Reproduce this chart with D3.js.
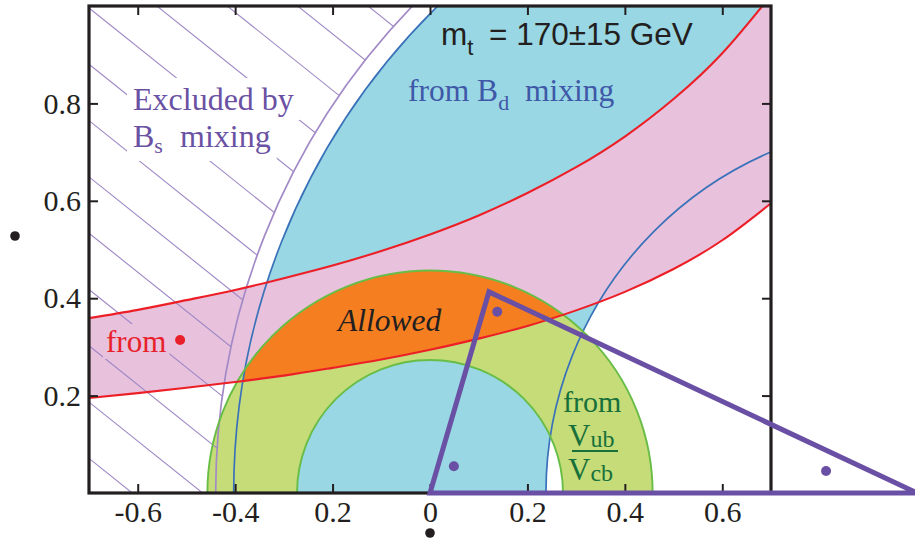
<!DOCTYPE html>
<html>
<head>
<meta charset="utf-8">
<script src="https://cdn.jsdelivr.net/npm/d3@7"></script>
<style>
  html, body { margin: 0; padding: 0; background: #fff; }
  svg { display: block; }
</style>
</head>
<body>
<svg id="chart" width="915" height="541"></svg>
<script>
// ---- axis ticks and their printed labels ----
const xTicks = [-0.6, -0.4, -0.2, 0, 0.2, 0.4, 0.6];
const xTickLabels = ["-0.6", "-0.4", "0.2", "0", "0.2", "0.4", "0.6"];
const yTicks = [0.2, 0.4, 0.6, 0.8];
const yTickLabels = ["0.2", "0.4", "0.6", "0.8"];

// ---- constraint circles in the (rho, eta) plane: [rho0, eta0, radius] ----
const bdMixing = [[1, 0, 0.762], [1, 0, 1.403]];   // inner, outer edge of the B_d band
const bsMixing = [1, 0, 1.44];                      // B_s exclusion boundary
const vubVcb = [[0, 0, 0.273], [0, 0, 0.457]];     // inner, outer edge of the |Vub/Vcb| ring

// ---- eps_K band edges sampled along rho ----
const epsRho   = [-0.7, -0.6, -0.5, -0.4, -0.3, -0.2, -0.1, 0, 0.1, 0.2, 0.3, 0.4, 0.5, 0.6, 0.7];
const epsLower = [0.195, 0.205, 0.216, 0.228, 0.241, 0.257, 0.274, 0.294, 0.317, 0.343, 0.375, 0.413, 0.460, 0.519, 0.595];
const epsUpper = [0.359, 0.376, 0.396, 0.417, 0.441, 0.467, 0.497, 0.531, 0.570, 0.616, 0.669, 0.732, 0.809, 0.903, 1.022];

// ---- unitarity triangle and angle markers ----
const triangle = [[0, 0], [0.121, 0.413], [1, 0]];
const angleMarks = [[0.138, 0.372], [0.049, 0.055], [0.813, 0.045]];
const epsMark = [-0.513, 0.314];

// ---- colours ----
const C = {
  cyan: "#98d7e3", pink: "#e8c1dc", green: "#c5dc79", orange: "#f47e20",
  red: "#ec1f27", blue: "#3a72ba", greenLine: "#68bd46", purpleArc: "#a28ac7",
  hatch: "#9d87c4", tri: "#6a50a4", ink: "#231f20",
  txtPurple: "#6a51a3", txtBlue: "#3f58a8", txtGreen: "#17703a", txtRed: "#e8202a"
};

const svg = d3.select("#chart");
const x = d3.scaleLinear().domain([-0.7, 0.7]).range([89, 771]);
const y = d3.scaleLinear().domain([0, 1]).range([493, 6]);

const defs = svg.append("defs");

// outline path of a circle of the data plane
function ring(c) {
  const cx = x(c[0]), cy = y(c[1]);
  const rx = x(c[0] + c[2]) - cx, ry = cy - y(c[1] + c[2]);
  return `M${cx - rx},${cy}A${rx},${ry} 0 1,0 ${cx + rx},${cy}A${rx},${ry} 0 1,0 ${cx - rx},${cy}Z`;
}
function annulus(pair) { return ring(pair[0]) + ring(pair[1]); }

// clip: plot window
defs.append("clipPath").attr("id", "plotClip")
  .append("rect").attr("x", x(-0.7)).attr("y", y(1))
  .attr("width", x(0.7) - x(-0.7)).attr("height", y(0) - y(1));

// eps_K band shape
const band = epsRho.map((r, i) => ({ r, lo: epsLower[i], hi: epsUpper[i] }));
const bandArea = d3.area().x(d => x(d.r)).y0(d => y(d.lo)).y1(d => y(d.hi)).curve(d3.curveNatural);
const edgeLo = d3.line().x(d => x(d.r)).y(d => y(d.lo)).curve(d3.curveNatural);
const edgeHi = d3.line().x(d => x(d.r)).y(d => y(d.hi)).curve(d3.curveNatural);

defs.append("clipPath").attr("id", "bandClip")
  .append("path").attr("d", bandArea(band));
defs.append("clipPath").attr("id", "bdClip")
  .append("path").attr("d", annulus(bdMixing)).attr("clip-rule", "evenodd");
// region outside the B_s circle
defs.append("clipPath").attr("id", "bsOutClip")
  .append("path").attr("d", `M-100,-100H1100V700H-100Z` + ring(bsMixing)).attr("clip-rule", "evenodd");

const plot = svg.append("g").attr("clip-path", "url(#plotClip)");

// fills
plot.append("path").attr("d", annulus(bdMixing)).attr("fill", C.cyan).attr("fill-rule", "evenodd");
plot.append("path").attr("d", bandArea(band)).attr("fill", C.pink);
plot.append("path").attr("d", annulus(vubVcb)).attr("fill", C.green).attr("fill-rule", "evenodd");
plot.append("g").attr("clip-path", "url(#bdClip)")
  .append("g").attr("clip-path", "url(#bandClip)")
  .append("path").attr("d", annulus(vubVcb)).attr("fill", C.orange).attr("fill-rule", "evenodd");

// hatching of the B_s excluded region
const hatch = plot.append("g").attr("clip-path", "url(#bsOutClip)")
  .attr("stroke", C.hatch).attr("stroke-width", 1.1);
const hx0 = x(-0.7), hx1 = x(0.7), slope = 0.80, step = 56.3;
for (let k = -11; k <= 9; k++) {
  const y0 = 8 + k * step;
  hatch.append("line").attr("x1", hx0).attr("y1", y0)
    .attr("x2", hx1).attr("y2", y0 + slope * (hx1 - hx0));
}

// boundary lines
plot.append("path").attr("d", ring(bsMixing)).attr("fill", "none").attr("stroke", C.purpleArc).attr("stroke-width", 1.7);
bdMixing.forEach(c => plot.append("path").attr("d", ring(c)).attr("fill", "none")
  .attr("stroke", C.blue).attr("stroke-width", 1.7));
vubVcb.forEach(c => plot.append("path").attr("d", ring(c)).attr("fill", "none")
  .attr("stroke", C.greenLine).attr("stroke-width", 1.9));
plot.append("path").attr("d", edgeLo(band)).attr("fill", "none").attr("stroke", C.red).attr("stroke-width", 2.1);
plot.append("path").attr("d", edgeHi(band)).attr("fill", "none").attr("stroke", C.red).attr("stroke-width", 2.1);

// ---- labels inside the plot ----
const serif = "'Liberation Serif','Times New Roman',serif";
const sans = "'Liberation Sans',Arial,sans-serif";
const labels = svg.append("g");

function knockout(textSel, fill, pad) {
  const b = textSel.node().getBBox();
  labels.insert("rect", () => textSel.node())
    .attr("x", b.x - pad).attr("y", b.y - pad + 3)
    .attr("width", b.width + 2 * pad).attr("height", b.height + 2 * pad - 6)
    .attr("fill", fill);
}

const t1 = labels.append("text").attr("x", 133).attr("y", 110)
  .style("font-family", serif).attr("font-size", 32).attr("fill", C.txtPurple).text("Excluded by");
knockout(t1, "#fff", 6);
const t2 = labels.append("text").attr("x", 133).attr("y", 147)
  .style("font-family", serif).attr("font-size", 32).attr("fill", C.txtPurple);
t2.append("tspan").text("B");
t2.append("tspan").attr("font-size", 22).attr("dy", 6).text("s");
t2.append("tspan").attr("x", 180).attr("dy", -6).text("mixing");
knockout(t2, "#fff", 6);

const t3 = labels.append("text").attr("x", 408).attr("y", 101)
  .style("font-family", serif).attr("font-size", 31.5).attr("fill", C.txtBlue);
t3.append("tspan").text("from B");
t3.append("tspan").attr("font-size", 22).attr("dy", 9).text("d");
t3.append("tspan").attr("x", 525).attr("dy", -9).text("mixing");

const t4 = labels.append("text").attr("x", 441).attr("y", 45)
  .style("font-family", sans).attr("font-size", 31.5).attr("fill", C.ink);
t4.append("tspan").text("m");
t4.append("tspan").attr("font-size", 22).attr("dy", 10).text("t");
t4.append("tspan").attr("x", 489).attr("dy", -10).text("= 170±15 GeV");

labels.append("text").attr("x", 338).attr("y", 331)
  .style("font-family", serif).attr("font-style", "italic").attr("font-size", 31.5)
  .attr("fill", C.ink).text("Allowed");

const t5 = labels.append("text").attr("x", 106).attr("y", 352)
  .style("font-family", serif).attr("font-size", 31).attr("fill", C.txtRed).text("from");
knockout(t5, C.pink, 3);

labels.append("text").attr("x", 563).attr("y", 412)
  .style("font-family", serif).attr("font-size", 30).attr("fill", C.txtGreen).text("from");
const t6 = labels.append("text").attr("x", 568).attr("y", 446)
  .style("font-family", serif).attr("font-size", 31).attr("fill", C.txtGreen);
t6.append("tspan").text("V");
t6.append("tspan").attr("font-size", 24).attr("dy", 1).text("ub");
labels.append("line").attr("x1", 572).attr("x2", 618).attr("y1", 451).attr("y2", 451)
  .attr("stroke", C.txtGreen).attr("stroke-width", 2);
const t7 = labels.append("text").attr("x", 568).attr("y", 480)
  .style("font-family", serif).attr("font-size", 31).attr("fill", C.txtGreen);
t7.append("tspan").text("V");
t7.append("tspan").attr("font-size", 24).attr("dy", 1).text("cb");

// ---- frame and axes ----
svg.append("rect").attr("x", x(-0.7)).attr("y", y(1))
  .attr("width", x(0.7) - x(-0.7)).attr("height", y(0) - y(1))
  .attr("fill", "none").attr("stroke", C.ink).attr("stroke-width", 3.2);

const axes = svg.append("g");
const gB = axes.append("g").attr("transform", `translate(0,${y(0)})`)
  .call(d3.axisBottom(x).tickValues(xTicks).tickFormat((d, i) => xTickLabels[i])
    .tickSizeInner(-9).tickSizeOuter(0).tickPadding(8));
const gT = axes.append("g").attr("transform", `translate(0,${y(1)})`)
  .call(d3.axisTop(x).tickValues(xTicks).tickFormat("").tickSizeInner(-9).tickSizeOuter(0));
const gL = axes.append("g").attr("transform", `translate(${x(-0.7)},0)`)
  .call(d3.axisLeft(y).tickValues(yTicks).tickFormat((d, i) => yTickLabels[i])
    .tickSizeInner(-9).tickSizeOuter(0).tickPadding(8));
const gR = axes.append("g").attr("transform", `translate(${x(0.7)},0)`)
  .call(d3.axisRight(y).tickValues(yTicks).tickFormat("").tickSizeInner(-9).tickSizeOuter(0));
[gB, gT, gL, gR].forEach(g => {
  g.attr("font-family", null).attr("font-size", null);
  g.select(".domain").remove();
  g.selectAll(".tick line").attr("stroke", C.ink).attr("stroke-width", 2);
  g.selectAll("text").style("font-family", serif).style("font-size", "30px").attr("fill", C.ink);
});

// axis-name markers
svg.append("circle").attr("cx", 15).attr("cy", 236).attr("r", 4.8).attr("fill", C.ink);
svg.append("circle").attr("cx", x(0)).attr("cy", 533).attr("r", 4.8).attr("fill", C.ink);

// ---- unitarity triangle ----
svg.append("path")
  .attr("d", d3.line().x(d => x(d[0])).y(d => y(d[1]))(triangle) + "Z")
  .attr("fill", "none").attr("stroke", C.tri).attr("stroke-width", 5)
  .attr("stroke-linejoin", "miter").attr("stroke-miterlimit", 20);
svg.selectAll(".angle").data(angleMarks).enter().append("circle")
  .attr("cx", d => x(d[0])).attr("cy", d => y(d[1])).attr("r", 5).attr("fill", C.tri);
svg.append("circle").attr("cx", x(epsMark[0])).attr("cy", y(epsMark[1])).attr("r", 5).attr("fill", C.txtRed);
</script>
</body>
</html>
